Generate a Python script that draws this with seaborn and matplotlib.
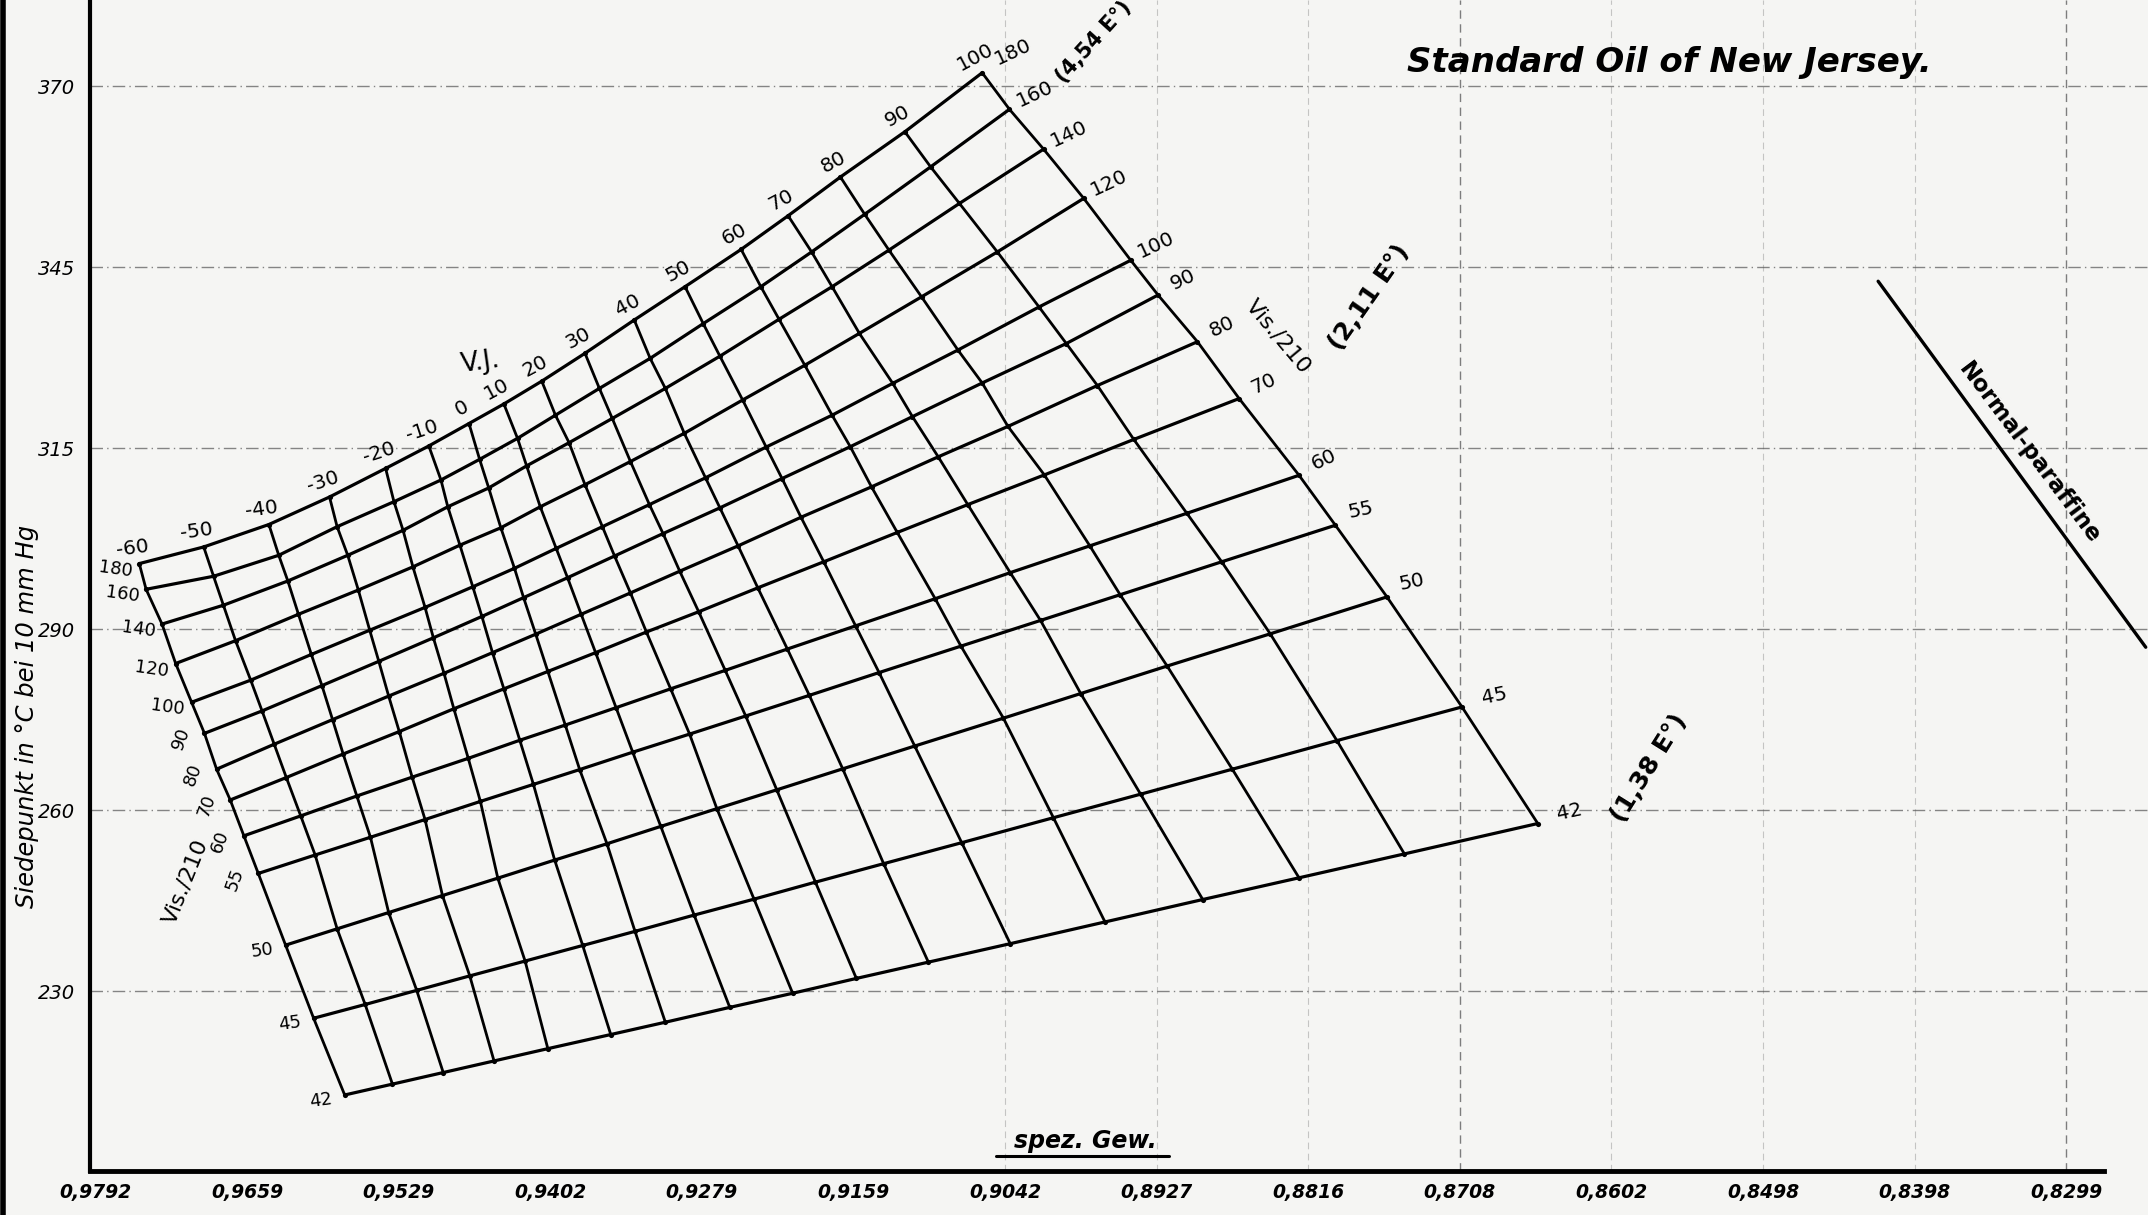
import numpy as np
import pandas as pd
import matplotlib
matplotlib.use("Agg")
import matplotlib.pyplot as plt
from matplotlib.lines import Line2D
import seaborn as sns

# ---------------- data ----------------
# x: gravity in degrees API (uniform scale of the chart), labelled as spez. Gew.
# y: boiling point at 10 mm Hg on the chart's uniform (deg F) scale, labelled in deg C
sg_tick_api = [13, 15, 17, 19, 21, 23, 25, 27, 29, 31, 33, 35, 37, 39]
sg_tick_labels = ["0,9792", "0,9659", "0,9529", "0,9402", "0,9279", "0,9159", "0,9042",
                  "0,8927", "0,8816", "0,8708", "0,8602", "0,8498", "0,8398", "0,8299"]
bp_tick_pos = [450, 500, 550, 600, 650, 700]
bp_tick_labels = ["230", "260", "290", "315", "345", "370"]

vi_values = [-60, -50, -40, -30, -20, -10, 0, 10, 20, 30, 40, 50, 60, 70, 80, 90, 100]
vis_values = [180, 160, 140, 120, 100, 90, 80, 70, 60, 55, 50, 45, 42]

# node positions of each Vis./210 line at the V.J. values above
api_v180 = [13.58, 14.43, 15.29, 16.09, 16.83, 17.40, 17.93, 18.39, 18.89, 19.46, 20.11, 20.78, 21.52, 22.14, 22.83, 23.68, 24.70]
bp_v180 = [568.1, 572.7, 578.9, 586.5, 594.4, 600.6, 606.8, 612.2, 618.5, 626.2, 635.4, 644.6, 654.9, 664.2, 674.9, 687.4, 703.7]
api_v160 = [13.67, 14.56, 15.42, 16.19, 16.94, 17.56, 18.07, 18.57, 19.07, 19.65, 20.32, 21.02, 21.78, 22.45, 23.15, 24.02, 25.06]
bp_v160 = [561.0, 564.6, 570.4, 578.3, 585.2, 591.2, 596.9, 602.7, 609.1, 616.5, 624.8, 634.4, 644.6, 654.2, 664.6, 677.7, 693.6]
api_v140 = [13.88, 14.69, 15.54, 16.33, 17.06, 17.65, 18.19, 18.69, 19.25, 19.82, 20.52, 21.24, 22.02, 22.72, 23.47, 24.40, 25.51]
bp_v140 = [551.4, 556.6, 563.3, 570.4, 577.3, 583.8, 589.0, 595.1, 601.5, 608.2, 616.5, 625.4, 635.6, 644.6, 654.7, 667.6, 682.6]
api_v120 = [14.06, 14.85, 15.68, 16.47, 17.19, 17.81, 18.35, 18.87, 19.46, 20.06, 20.77, 21.54, 22.36, 23.08, 23.90, 24.90, 26.04]
bp_v120 = [540.5, 546.8, 554.1, 560.8, 567.2, 573.2, 578.0, 583.8, 589.9, 596.3, 604.1, 613.3, 622.9, 631.7, 641.8, 654.2, 669.0]
api_v100 = [14.27, 15.05, 15.85, 16.62, 17.35, 17.98, 18.53, 19.08, 19.69, 20.31, 21.05, 21.85, 22.72, 23.52, 24.38, 25.45, 26.66]
bp_v100 = [529.8, 535.9, 543.0, 549.7, 556.0, 561.7, 566.8, 572.3, 578.3, 584.4, 591.8, 600.3, 609.1, 617.9, 627.1, 639.0, 651.9]
api_v90 = [14.44, 15.20, 15.99, 16.74, 17.46, 18.10, 18.65, 19.23, 19.85, 20.49, 21.24, 22.06, 22.96, 23.78, 24.70, 25.81, 27.02]
bp_v90 = [521.2, 527.4, 534.4, 541.1, 547.6, 553.5, 558.7, 564.2, 570.2, 576.4, 583.5, 591.6, 600.4, 608.7, 618.0, 628.9, 642.3]
api_v80 = [14.60, 15.36, 16.13, 16.87, 17.60, 18.24, 18.81, 19.41, 20.06, 20.71, 21.48, 22.31, 23.24, 24.12, 25.04, 26.22, 27.54]
bp_v80 = [511.3, 518.2, 525.0, 531.5, 537.8, 543.5, 548.6, 554.1, 560.0, 566.0, 573.0, 580.9, 589.3, 597.6, 606.0, 617.3, 629.4]
api_v70 = [14.78, 15.52, 16.27, 17.01, 17.73, 18.39, 18.97, 19.60, 20.27, 20.96, 21.74, 22.61, 23.58, 24.51, 25.52, 26.70, 28.09]
bp_v70 = [502.8, 509.0, 515.5, 521.7, 528.0, 533.5, 538.3, 543.5, 549.2, 554.8, 561.4, 568.6, 576.7, 584.4, 592.6, 602.4, 613.7]
api_v60 = [14.96, 15.71, 16.45, 17.18, 17.92, 18.60, 19.20, 19.87, 20.59, 21.31, 22.13, 23.03, 24.08, 25.07, 26.12, 27.40, 28.88]
bp_v60 = [492.9, 498.4, 503.9, 509.1, 514.3, 519.3, 523.5, 528.3, 533.5, 538.6, 544.5, 550.9, 558.4, 565.6, 573.0, 582.0, 592.5]
api_v55 = [15.15, 15.90, 16.63, 17.35, 18.08, 18.78, 19.39, 20.09, 20.84, 21.58, 22.42, 23.34, 24.42, 25.47, 26.52, 27.86, 29.36]
bp_v55 = [482.5, 487.6, 492.5, 497.4, 502.4, 507.1, 511.2, 516.0, 521.0, 526.0, 531.7, 538.0, 545.3, 552.4, 559.5, 568.6, 578.7]
api_v50 = [15.51, 16.19, 16.87, 17.58, 18.31, 19.06, 19.75, 20.46, 21.20, 21.99, 22.86, 23.81, 24.98, 26.00, 27.14, 28.50, 30.04]
bp_v50 = [462.7, 467.2, 471.7, 476.4, 481.2, 486.2, 490.7, 495.5, 500.4, 505.6, 511.4, 517.7, 525.4, 532.2, 539.8, 548.7, 558.9]
api_v45 = [15.88, 16.56, 17.24, 17.94, 18.67, 19.43, 20.12, 20.90, 21.69, 22.50, 23.40, 24.43, 25.64, 26.79, 28.00, 29.38, 31.03]
bp_v45 = [442.5, 446.3, 450.2, 454.2, 458.3, 462.6, 466.5, 471.0, 475.4, 480.1, 485.2, 491.0, 497.9, 504.4, 511.3, 519.2, 528.5]
api_v42 = [16.29, 16.92, 17.59, 18.26, 18.97, 19.80, 20.52, 21.37, 22.20, 23.04, 23.99, 25.07, 26.32, 27.61, 28.88, 30.27, 32.03]
bp_v42 = [421.3, 424.3, 427.5, 430.7, 434.1, 438.0, 441.4, 445.5, 449.4, 453.5, 458.0, 463.1, 469.1, 475.3, 481.3, 487.9, 496.3]

# "Normal-paraffine" reference line
paraffin_api = [36.52, 40.05]
paraffin_bp = [646.1, 545.0]

# ---------------- assemble ----------------
API = np.array([api_v180, api_v160, api_v140, api_v120, api_v100, api_v90, api_v80,
                api_v70, api_v60, api_v55, api_v50, api_v45, api_v42])
BP = np.array([bp_v180, bp_v160, bp_v140, bp_v120, bp_v100, bp_v90, bp_v80,
               bp_v70, bp_v60, bp_v55, bp_v50, bp_v45, bp_v42])

rec_vis, rec_vi = [], []
for i, vis in enumerate(vis_values):
    for j, vi in enumerate(vi_values):
        rec_vis.append(dict(line=f"vis{vis}", k=j, api=API[i, j], bp=BP[i, j]))
for j, vi in enumerate(vi_values):
    for i, vis in enumerate(vis_values):
        rec_vi.append(dict(line=f"vi{vi}", k=i, api=API[i, j], bp=BP[i, j]))
df_vis = pd.DataFrame(rec_vis)
df_vi = pd.DataFrame(rec_vi)
df_par = pd.DataFrame(dict(line="par", api=paraffin_api, bp=paraffin_bp))

# ---------------- figure ----------------
BG = "#f5f5f3"
sns.set_theme(style="white")
plt.rcParams["font.family"] = ["DejaVu Sans"]
plt.rcParams["text.color"] = "black"
plt.rcParams["axes.labelcolor"] = "black"
plt.rcParams["xtick.color"] = "black"
plt.rcParams["ytick.color"] = "black"

W, H = 2148, 1215
fig = plt.figure(figsize=(W / 100, H / 100), dpi=100, facecolor=BG)
x0, y0 = 90 / W, 44 / H
ax = fig.add_axes([x0, y0, 1 - x0, 1 - y0])
ax.set_facecolor(BG)
ax.set_xlim(12.93, 40.08)
ax.set_ylim(400.3, 723.8)

# faint guide lines of the original graph paper
for yv in bp_tick_pos:
    ax.axhline(yv, color="#555555", lw=1.0, ls=(0, (9, 3, 1, 3)), alpha=0.7, zorder=1)
for xv in sg_tick_api[6:]:
    strong = xv in (31, 39)
    ax.axvline(xv, color="#555555", lw=1.0 if strong else 0.8,
               ls=(0, (6, 4)), alpha=0.75 if strong else 0.3, zorder=1)

# nomogram grid
sns.lineplot(data=df_vis, x="api", y="bp", units="line", estimator=None, sort=False,
             color="black", lw=2.3, ax=ax, legend=False, zorder=3)
sns.lineplot(data=df_vi, x="api", y="bp", units="line", estimator=None, sort=False,
             color="black", lw=2.0, ax=ax, legend=False, zorder=3)
sns.scatterplot(data=df_vis, x="api", y="bp", s=14, color="black", linewidth=0,
                ax=ax, legend=False, zorder=4)
sns.lineplot(data=df_par, x="api", y="bp", units="line", estimator=None, sort=False,
             color="black", lw=2.4, ax=ax, legend=False, zorder=3)

# axes styling
for s in ("top", "right"):
    ax.spines[s].set_visible(False)
ax.spines["left"].set_linewidth(3)
ax.spines["bottom"].set_linewidth(3.5)
ax.spines["left"].set_color("black")
ax.spines["bottom"].set_color("black")
ax.spines["bottom"].set_bounds(12.93, 39.5)
ax.set_xticks(sg_tick_api)
ax.set_xticklabels(sg_tick_labels, fontsize=13.5, fontweight="bold", fontstyle="italic")
ax.set_yticks(bp_tick_pos)
ax.set_yticklabels(bp_tick_labels, fontsize=14, fontstyle="italic")
ax.tick_params(axis="x", direction="inout", length=7, width=1.5, pad=5, colors="black")
ax.tick_params(axis="y", direction="out", length=9, width=1.5, pad=2, colors="black")
ax.set_xlabel("")
ax.set_ylabel("")

# labels of V.J. lines (top edge)
for j, vi in enumerate(vi_values):
    rot = 8 if vi <= -40 else (18 if vi <= -10 else 28)
    ax.annotate(f"{vi}", xy=(API[0, j], BP[0, j]), xytext=(-5, 11), textcoords="offset points",
                ha="center", va="center", rotation=rot, fontsize=14.5, color="black", zorder=5)

# labels of Vis./210 lines, left edge
for i, vis in enumerate(vis_values):
    if vis >= 100:
        rot = -8
    elif vis >= 55:
        rot = 70
    else:
        rot = 8
    ax.annotate(f"{vis}", xy=(API[i, 0], BP[i, 0]), xytext=(-17, -4), textcoords="offset points",
                ha="center", va="center", rotation=rot, fontsize=13, color="black", zorder=5)

# labels of Vis./210 lines, right edge
for i, vis in enumerate(vis_values):
    off = (18, 11)
    rot = 25 if vis >= 60 else 12
    if vis == 180:
        off = (22, 15)
    if vis in (45, 42):
        off = (23, 8)
    ax.annotate(f"{vis}", xy=(API[i, -1], BP[i, -1]), xytext=off, textcoords="offset points",
                ha="center", va="center", rotation=rot, fontsize=14.5, color="black", zorder=5)

i180, i100, i42, i55 = 0, vis_values.index(100), vis_values.index(42), vis_values.index(55)
ax.annotate("(4,54 E°)", xy=(API[i180, -1], BP[i180, -1]), xytext=(80, 22), textcoords="offset points",
            ha="center", va="center", rotation=48, fontsize=15, fontweight="bold", color="black")
ax.annotate("(2,11 E°)", xy=(API[i100, -1], BP[i100, -1]), xytext=(172, -27), textcoords="offset points",
            ha="center", va="center", rotation=55, fontsize=18, fontweight="bold", color="black")
ax.annotate("(1,38 E°)", xy=(API[i42, -1], BP[i42, -1]), xytext=(80, 40), textcoords="offset points",
            ha="center", va="center", rotation=58, fontsize=18, fontweight="bold", color="black")
ax.annotate("Vis./210", xy=(API[i100, -1], BP[i100, -1]), xytext=(106, -55), textcoords="offset points",
            ha="center", va="center", rotation=-50, fontsize=16, color="black")
ax.annotate("Vis./210", xy=(API[i55, 0], BP[i55, 0]), xytext=(-52, -6), textcoords="offset points",
            ha="center", va="center", rotation=68, fontsize=16, color="black")
ax.annotate("V.J.", xy=(API[0, 6], BP[0, 6]), xytext=(8, 44), textcoords="offset points",
            ha="center", va="center", rotation=8, fontsize=19, color="black")

ax.text(38.52, 598.6, "Normal-paraffine", rotation=-53, rotation_mode="anchor",
        ha="center", va="center", fontsize=16.5, fontweight="bold", color="black")

# titles and axis names
ax.text(0.7675, 0.947, "Standard Oil of New Jersey.", transform=ax.transAxes,
        ha="center", va="center", fontsize=24.5, fontweight="bold", fontstyle="italic",
        color="black")
ax.text(0.4835, 0.026, "spez. Gew.", transform=ax.transAxes, ha="center", va="center",
        fontsize=17, fontweight="bold", fontstyle="italic", color="black")
ax.plot([0.440, 0.5245], [0.0125, 0.0125], transform=ax.transAxes, color="black", lw=2.2,
        clip_on=False)
fig.text(0.0125, 0.41, "Siedepunkt in °C bei 10 mm Hg", rotation=90, ha="center", va="center",
         fontsize=17.5, fontstyle="italic", color="black")
fig.add_artist(Line2D([0.0015, 0.0015], [0, 1], transform=fig.transFigure, color="black", lw=4))

fig.savefig("out.png", dpi=100, facecolor=BG)
